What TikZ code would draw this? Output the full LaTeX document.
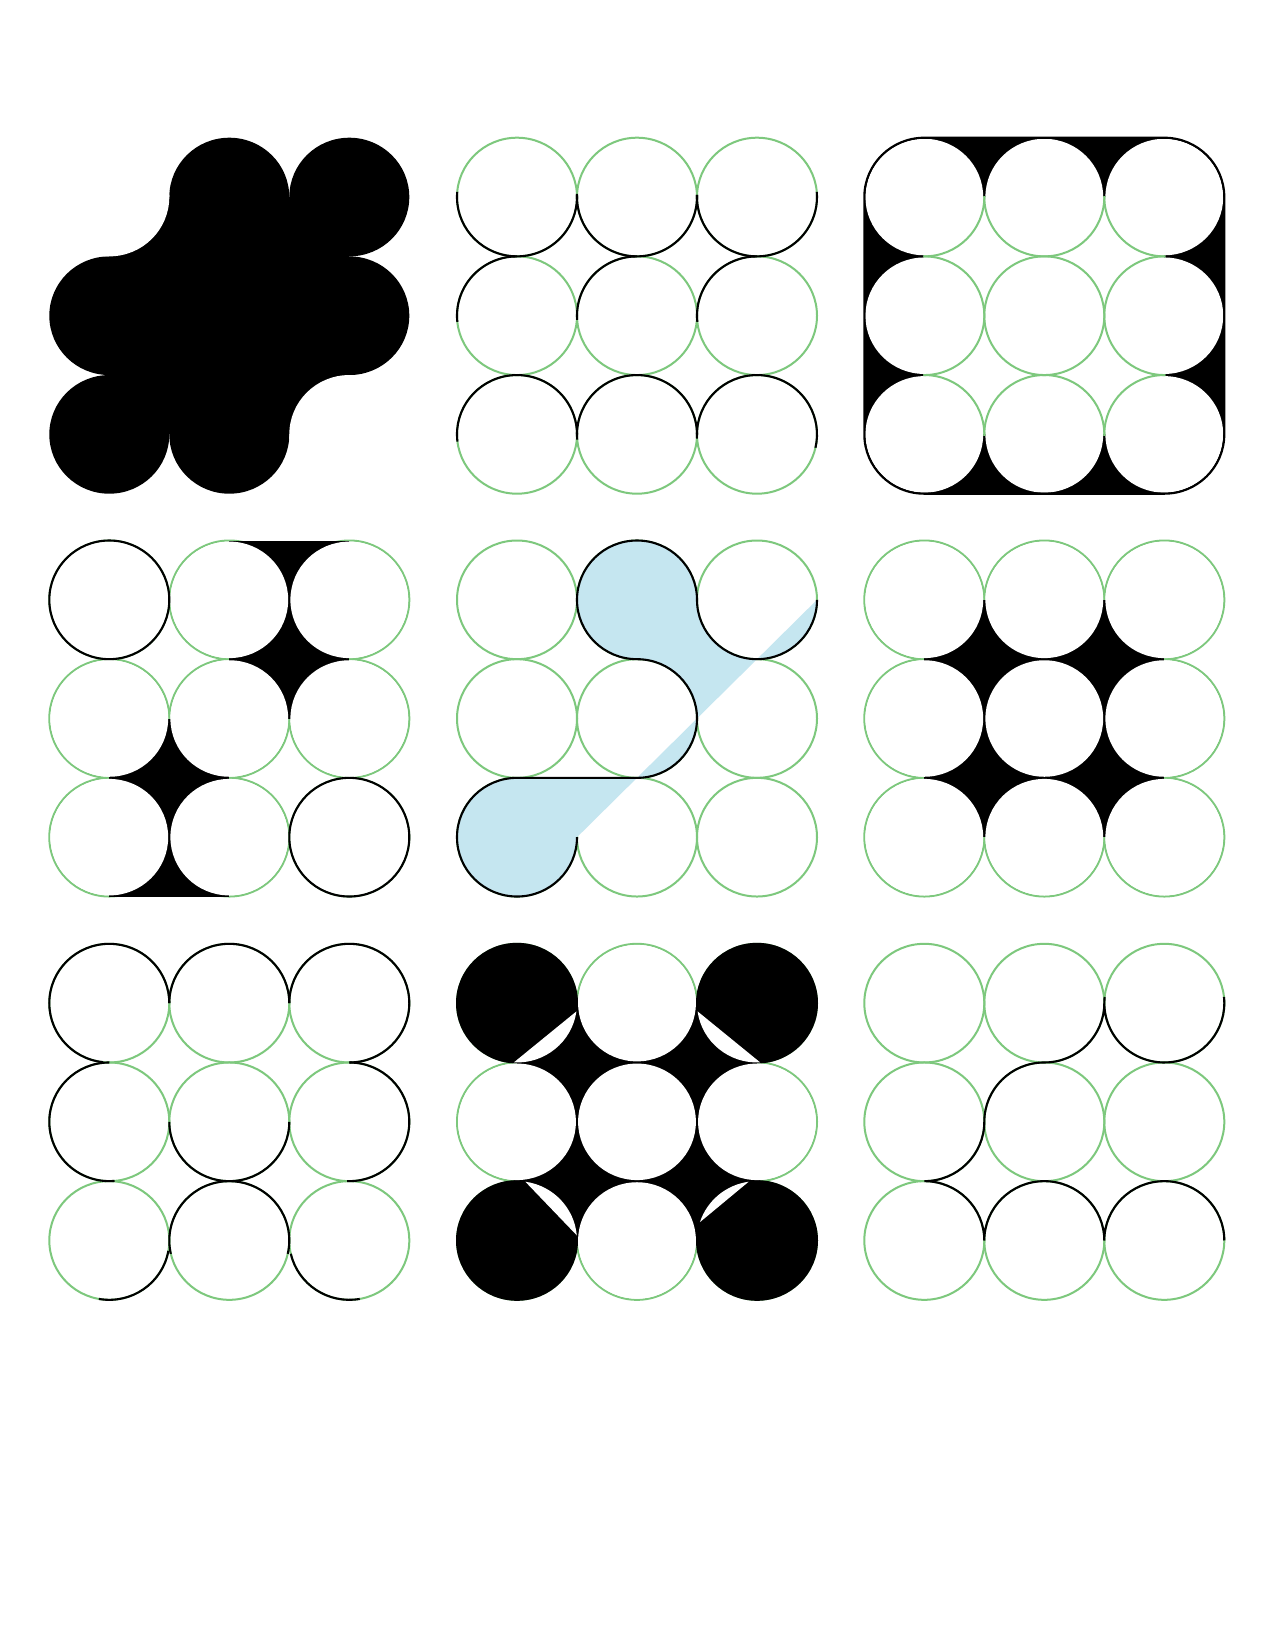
\documentclass[tikz,border=0pt]{standalone}
\definecolor{cg}{RGB}{125,200,125}
\definecolor{cb}{RGB}{197,230,240}
\tikzset{
  gring/.style={draw=cg, line width=2pt},
  bline/.style={draw=black, line width=2.1pt},
  panel/.style={yscale=0.9889},
}
\newcommand{\greens}{\foreach \i in {0,1,2}{\foreach \j in {0,1,2}{\draw[gring] ({60+120*\i},{60+120*\j}) circle[radius=60];}}}
\newcommand{\whites}{\foreach \i in {0,1,2}{\foreach \j in {0,1,2}{\fill[white] ({60+120*\i},{60+120*\j}) circle[radius=58.9];}}}
\newcommand{\barc}[3]{\draw[bline] (#1) ++(#2:60) arc[start angle=#2,end angle=#3,radius=60];}
\begin{document}
\begin{tikzpicture}[x=1pt,y=-1pt]
\fill[white] (0,0) rectangle (1275,1650);
\useasboundingbox (0,0) rectangle (1275,1650);

% panel 1
\begin{scope}[shift={(49.3,137.7)},panel]
\foreach \c in {{180,60},{300,60},{60,180},{180,180},{300,180},{60,300},{180,300}} \fill (\c) circle[radius=60];
\fill (60,60) rectangle (300,300);
\fill[white] (60,60) circle[radius=60];
\fill[white] (300,300) circle[radius=60];
\end{scope}

% panel 2
\begin{scope}[shift={(457,137.7)},panel]
\greens
\barc{60,60}{185}{-3}
\barc{180,60}{182}{-2}
\barc{300,60}{182}{-5}
\barc{60,180}{174}{270}
\barc{180,180}{176}{270}
\barc{300,180}{174}{270}
\barc{60,300}{173}{360}
\barc{180,300}{175}{364}
\barc{300,300}{180}{373}
\end{scope}

% panel 3
\begin{scope}[shift={(864.3,137.7)},panel]
\fill (60,0) -- (300,0) arc[start angle=270,end angle=360,radius=60] -- (360,300) arc[start angle=0,end angle=90,radius=60] -- (60,360) arc[start angle=90,end angle=180,radius=60] -- (0,60) arc[start angle=180,end angle=270,radius=60] -- cycle;
\fill[white] (60,60) rectangle (300,300);
\whites
\begin{scope}
\clip (59,59) rectangle (301,301);
\greens
\end{scope}
\draw[bline] (60,0) -- (300,0) arc[start angle=270,end angle=360,radius=60] -- (360,300) arc[start angle=0,end angle=90,radius=60] -- (60,360) arc[start angle=90,end angle=180,radius=60] -- (0,60) arc[start angle=180,end angle=270,radius=60] -- cycle;
\end{scope}

% panel 4
\begin{scope}[shift={(49.3,540.5)},panel]
\greens
\fill (180,0) rectangle (300,180);
\fill (60,180) rectangle (180,360);
\whites
\draw[bline] (60,60) circle[radius=60];
\draw[bline] (300,300) circle[radius=60];
\end{scope}

% panel 5
\begin{scope}[shift={(457,540.5)},panel]
\greens
\fill[cb] (120,300) arc[start angle=0,end angle=270,radius=60] -- (180,240) arc[start angle=90,end angle=-90,radius=60] arc[start angle=90,end angle=360,radius=60] arc[start angle=180,end angle=0,radius=60] -- cycle;
\draw[bline] (120,300) arc[start angle=0,end angle=270,radius=60] -- (180,240) arc[start angle=90,end angle=-90,radius=60] arc[start angle=90,end angle=360,radius=60] arc[start angle=180,end angle=0,radius=60];
\end{scope}

% panel 6
\begin{scope}[shift={(864.3,540.5)},panel]
\greens
\fill (60,60) rectangle (300,300);
\whites
\end{scope}

% panel 7
\begin{scope}[shift={(49.3,943.8)},panel]
\greens
\barc{60,60}{96}{360}
\barc{180,60}{180}{360}
\barc{300,60}{180}{450}
\barc{60,180}{270}{85}
\barc{180,180}{180}{0}
\barc{300,180}{270}{452}
\barc{60,300}{10}{100}
\barc{180,300}{167}{373}
\barc{300,300}{167}{80}
\end{scope}

% panel 8
\begin{scope}[shift={(457,943.8)},panel]
\greens
\fill (60,60) rectangle (300,300);
\foreach \c in {{60,60},{300,60},{60,300},{300,300}} \fill (\c) circle[radius=61];
\foreach \c in {{180,60},{60,180},{180,180},{300,180},{180,300}} \fill[white] (\c) circle[radius=58.9];
\fill[white] (60,60) ++(8:60) arc[start angle=8,end angle=93,radius=60] -- cycle;
\fill[white] (300,60) ++(87:60) arc[start angle=87,end angle=172,radius=60] -- cycle;
\fill[white] (60,300) ++(278:60) arc[start angle=278,end angle=355,radius=60] -- cycle;
\fill[white] (300,300) ++(198:60) arc[start angle=198,end angle=262,radius=60] -- cycle;
\end{scope}

% panel 9
\begin{scope}[shift={(864.3,943.8)},panel]
\greens
\draw[bline] (300,60) ++(-6:60) arc[start angle=-6,end angle=186,radius=60] -- (240,60) arc[start angle=0,end angle=90,radius=60] arc[start angle=270,end angle=180,radius=60] arc[start angle=0,end angle=90,radius=60] arc[start angle=270,end angle=360,radius=60] arc[start angle=180,end angle=360,radius=60] arc[start angle=180,end angle=360,radius=60];
\end{scope}
\end{tikzpicture}
\end{document}
